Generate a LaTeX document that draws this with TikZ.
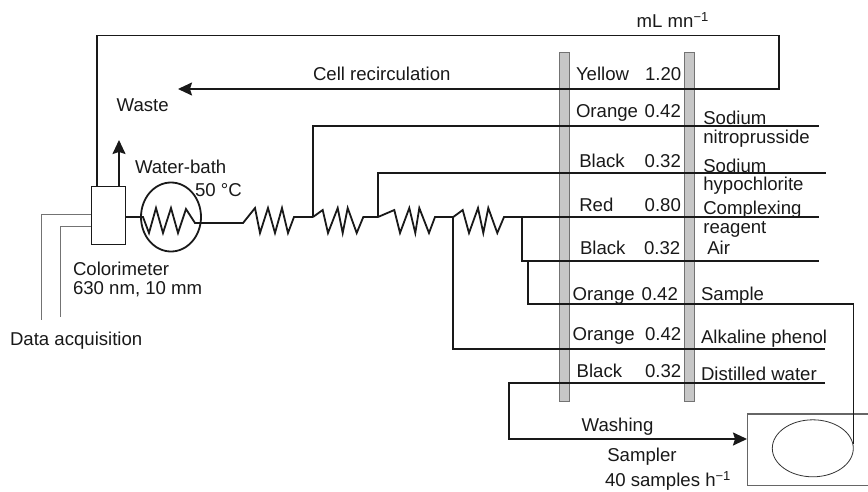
\documentclass[tikz,border=0pt]{standalone}
\usepackage{fontspec}
\setmainfont{Liberation Sans}
\usetikzlibrary{arrows.meta,shapes.geometric}
\tikzset{
	pipe/.style={line width=1.8pt, black!90, line join=miter},
	flow/.style={pipe, -{Stealth[length=14pt,width=13pt,inset=2pt]}},
	wire/.style={line width=1pt, black!55},
	bar/.style={draw=black!55, fill=black!22, line width=0.9pt},
	lbl/.style={anchor=base west, inner sep=0pt, outer sep=0pt, yshift=-0.7pt, font=\fontsize{18.6}{20}\selectfont, text=black!90},
}
\begin{document}
\begin{tikzpicture}[x=1pt,y=-1pt]
	\useasboundingbox (0,0) rectangle (868,491);
	% pump tube bars
	\foreach \x in {559.5, 684.8} {
		\draw[bar] (\x,52) rectangle (\x+10,401.5);
	}
	% units
	\node[draw, pipe, fill=white, minimum width=34pt, minimum height=58pt, inner sep=0pt, outer sep=0pt] (colorimeter) at (108.4,215.5) {};
	\node[draw, pipe, ellipse, minimum width=60pt, minimum height=69pt, inner sep=0pt, outer sep=0pt] (bath) at (171,217) {};
	\node[draw, black!80, line width=0.8pt, ellipse, minimum width=81pt, minimum height=57pt, inner sep=0pt, outer sep=0pt] (tray) at (812.8,448.3) {};
	% sampler housing runs off the page
	\coordinate (samplertop) at (868,414);
	\coordinate (samplerbottom) at (868,485.5);
	\draw[black!60, line width=1.2pt] (samplertop) -| (747.3,485.5) -- (samplerbottom);
	% junctions
	\coordinate (loopstart) at (97,186);
	\coordinate (ventstart) at (119,186);
	\coordinate (venttip) at (119,140);
	\coordinate (recirctip) at (178,89);
	\coordinate (washtip) at (747,439);
	\coordinate (probe) at (853.5,444);
	\coordinate (j1) at (313,217);
	\coordinate (j2) at (378,217);
	\coordinate (j3) at (453.3,217);
	\coordinate (j4) at (522.3,217);
	\coordinate (j5) at (528.3,261);
	% coils
	\draw[pipe] (colorimeter.east |- 0,217) -- (143,217) -- (149,233) -- (156,208) -- (163,233) -- (171,208) -- (178,233) -- (186,209) -- (195,223) -- (243,223) -- (255,208) -- (260,233) -- (268,208) -- (275,233) -- (282,208) -- (288,233) -- (294,217) -- (j1);
	\draw[pipe] (j1) -- (322.7,210) -- (328,233) -- (337.7,208) -- (342.7,233) -- (347.7,208) -- (356.7,233) -- (363.3,217) -- (j2);
	\draw[pipe] (j2) -- (394.3,210) -- (400,233) -- (409.3,208) -- (415.3,233) -- (419.3,208) -- (429,233) -- (435,217) -- (j3);
	\draw[pipe] (j3) -- (462.7,210) -- (469,233) -- (478,208) -- (483.3,233) -- (488.3,208) -- (497.3,233) -- (504,217) -- (j4);
	% lines through the pump
	\draw[pipe] (j4) -- (819,217);
	\draw[pipe] (j1) |- (819,126);
	\draw[pipe] (j2) |- (825.5,173);
	\draw[pipe] (j3) |- (825,348.7);
	\draw[pipe] (j4) |- (819,261);
	\draw[pipe] (j5) |- (853.5,304) -- (probe);
	\draw[flow] (825,382.7) -| (509.3,439) -- (washtip);
	\draw[flow] (loopstart) |- (779,35.5) |- (recirctip);
	\draw[flow] (ventstart) -- (venttip);
	% data lines
	\draw[wire] (colorimeter.west |- 0,214) -| (41,320);
	\draw[wire] (colorimeter.west |- 0,226) -| (60,317);
	% labels
	\foreach \x/\y/\t in {636.7/26.7/{mL mn\textsuperscript{−1}}, 313/79.3/Cell recirculation, 116.7/110.7/Waste, 135/173/Water-bath, 195/196/50 °C, 73/275/Colorimeter, 73/294/{630 nm, 10 mm}, 10/344.5/Data acquisition, 581.7/431/Washing, 607.3/461/Sampler, 605/486/{40 samples h\textsuperscript{−1}}} {
		\node[lbl] at (\x,\y) {\t};
	}
	\foreach \x/\y/\t in {576/79.3/Yellow, 645/79.3/1.20, 576/116.7/Orange, 644.7/116.7/0.42, 579.3/166.7/Black, 644.7/166.7/0.32, 579.3/210.7/Red, 644.7/210.7/0.80, 580/253.5/Black, 644/253.5/0.32, 572.7/299.3/Orange, 641.7/299.3/0.42, 572.7/339.3/Orange, 645/339.3/0.42, 576.7/376.7/Black, 645/376.7/0.32} {
		\node[lbl] at (\x,\y) {\t};
	}
	\foreach \x/\y/\t in {703.3/124/Sodium, 703.3/142.7/nitroprusside, 703.3/171.7/Sodium, 703.3/190/hypochlorite, 703.3/213.3/Complexing, 703.3/232.7/reagent, 707.3/253.5/Air, 701/299.3/Sample, 701/342.7/Alkaline phenol, 701/379.3/Distilled water} {
		\node[lbl] at (\x,\y) {\t};
	}
\end{tikzpicture}
\end{document}
